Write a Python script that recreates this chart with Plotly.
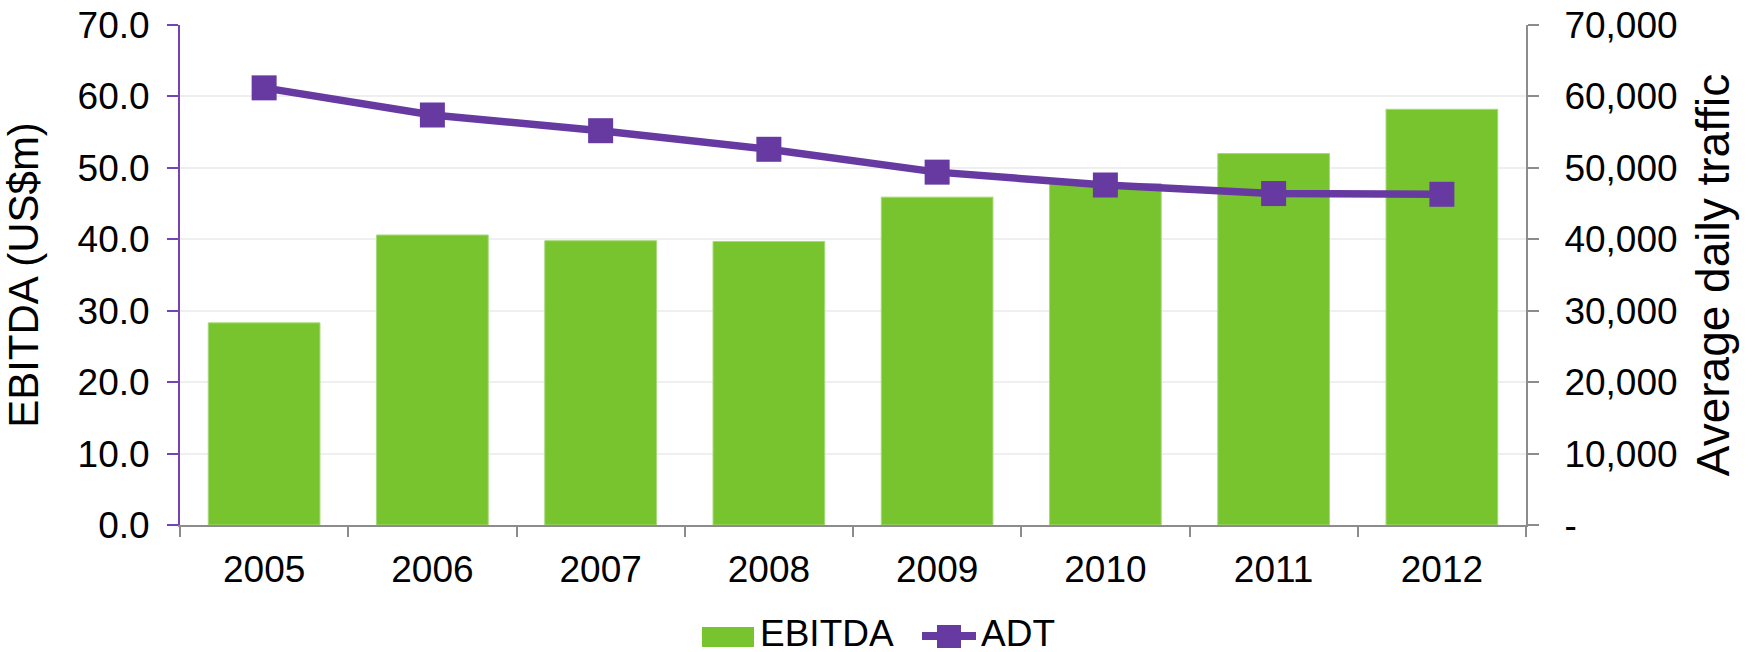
import plotly.graph_objects as go

years = ["2005", "2006", "2007", "2008", "2009", "2010", "2011", "2012"]
ebitda = [28.3, 40.6, 39.8, 39.7, 45.9, 47.8, 52.0, 58.2]
adt = [61200, 57400, 55200, 52600, 49400, 47600, 46400, 46300]

left_ticks = [0, 10, 20, 30, 40, 50, 60, 70]
right_ticks = [0, 10000, 20000, 30000, 40000, 50000, 60000, 70000]
right_labels = ["-", "10,000", "20,000", "30,000", "40,000", "50,000", "60,000", "70,000"]

GREEN = "#78C42F"
PURPLE = "#663AA0"
FONT = "Arial, Liberation Sans, sans-serif"

W, H = 1754, 652
L, R, T, B = 180, 228, 25, 127
PW, PH = W - L - R, H - T - B


def px(x):
    # pixel column -> paper x
    return (x - L) / PW


def py(y):
    # pixel row -> paper y
    return (H - B - y) / PH


fig = go.Figure()
fig.add_trace(go.Bar(
    name="EBITDA", x=years, y=ebitda,
    marker=dict(color=GREEN, line=dict(color="#A6D97A", width=1)),
))
fig.add_trace(go.Scatter(
    name="ADT", x=years, y=adt, yaxis="y2",
    mode="lines+markers",
    line=dict(color=PURPLE, width=7.5),
    marker=dict(symbol="square", size=25, color=PURPLE),
))

# legend drawn by hand so the swatches keep the reference proportions
fig.add_shape(type="rect", xref="paper", yref="paper",
              x0=px(702), x1=px(754), y0=py(647), y1=py(627),
              fillcolor=GREEN, line=dict(width=0))
fig.add_shape(type="line", xref="paper", yref="paper",
              x0=px(922), x1=px(976), y0=py(636), y1=py(636),
              line=dict(color=PURPLE, width=8), layer="above")
fig.add_shape(type="rect", xref="paper", yref="paper",
              x0=px(937), x1=px(961), y0=py(648), y1=py(625),
              fillcolor=PURPLE, line=dict(width=0))
for label, x0 in [("EBITDA", 759), ("ADT", 980)]:
    fig.add_annotation(text=label, xref="paper", yref="paper",
                       x=px(x0), y=py(633), xanchor="left", yanchor="middle",
                       height=36, valign="middle",
                       showarrow=False, font=dict(size=37), borderpad=0)

fig.update_layout(
    width=W, height=H,
    margin=dict(l=L, r=R, t=T, b=B, autoexpand=False),
    paper_bgcolor="white", plot_bgcolor="white",
    font=dict(family=FONT, size=37, color="black"),
    bargap=0.336,
    showlegend=False,
    xaxis=dict(
        type="category", tickson="boundaries",
        ticks="outside", ticklen=10, tickwidth=2, tickcolor="#8C8C8C",
        showline=True, linecolor="#8C8C8C", linewidth=2,
        showgrid=False, ticklabelstandoff=11,
    ),
    yaxis=dict(
        range=[0, 70], tickvals=left_ticks, tickformat=".1f",
        ticks="outside", ticklen=11, tickwidth=2, tickcolor="#7543B4",
        showline=True, linecolor="#7543B4", linewidth=2,
        showgrid=True, gridcolor="#EFEFEF", gridwidth=2,
        zeroline=False, ticklabelstandoff=10,
        title=dict(text="EBITDA (US$m)", font=dict(size=42), standoff=27),
    ),
    yaxis2=dict(
        overlaying="y", side="right", range=[0, 70000],
        tickvals=right_ticks, ticktext=right_labels,
        ticks="outside", ticklen=11, tickwidth=2, tickcolor="#8C8C8C",
        showline=True, linecolor="#8C8C8C", linewidth=2,
        showgrid=False, zeroline=False, ticklabelstandoff=18,
        title=dict(text="Average daily traffic", font=dict(size=46), standoff=20),
    ),
)

fig.write_html("out.html", config={"displayModeBar": False},
               post_script="document.body.style.margin='0';")
